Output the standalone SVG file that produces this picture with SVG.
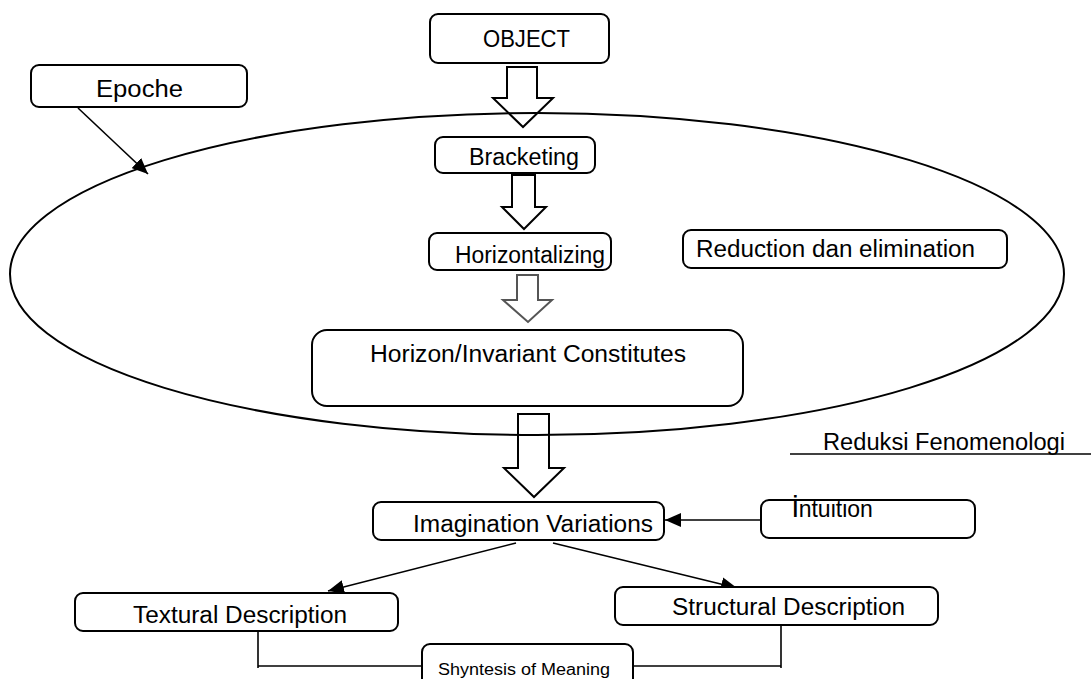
<svg xmlns="http://www.w3.org/2000/svg" width="1091" height="679" viewBox="0 0 1091 679">
<style>
.box{fill:#fff;stroke:#000;stroke-width:2}
.barrow{fill:none;stroke:#000;stroke-width:2;stroke-linejoin:miter}
.conn{fill:none;stroke:#000;stroke-width:1.6}
.t{font-family:"Liberation Sans",Arial,sans-serif;font-size:23px;fill:#000}
.s{font-family:"Liberation Sans",Arial,sans-serif;font-size:16px;fill:#000}
</style>
<defs>
<marker id="ah" markerUnits="userSpaceOnUse" markerWidth="16" markerHeight="14" refX="16" refY="7" orient="auto">
<path d="M0,0 L16,7 L0,14 Z" fill="#000"/>
</marker>
</defs>
<rect width="1091" height="679" fill="#fff"/>
<g id="ellipse">
<ellipse cx="537" cy="274" rx="527" ry="161" fill="none" stroke="#000" stroke-width="2"/>
</g>
<g id="block-arrows">
<path class="barrow" d="M507,67 H537 V98 H553 L523,127 L493,98 H507 Z"/>
<path class="barrow" d="M512,175 H535 V207 H546 L524,229 L502,207 H512 Z"/>
<path class="barrow" style="stroke:#555" d="M517,275 H538 V300 H552 L528,322 L503,300 H517 Z"/>
<path class="barrow" d="M518,414 H549 V468 H564 L534,497 L504,468 H518 Z"/>
</g>
<g id="connectors">
<line class="conn" x1="78" y1="108" x2="148" y2="174" marker-end="url(#ah)"/>
<line class="conn" x1="761" y1="520" x2="665" y2="520" marker-end="url(#ah)"/>
<line class="conn" x1="516" y1="543" x2="328" y2="591" marker-end="url(#ah)"/>
<line class="conn" x1="553" y1="543" x2="737" y2="588" marker-end="url(#ah)"/>
<polyline class="conn" points="258,631 258,668"/>
<line class="conn" x1="258" y1="666" x2="422" y2="666"/>
<polyline class="conn" points="781,625 781,668"/>
<line class="conn" x1="781" y1="666" x2="634" y2="666"/>
<line class="conn" x1="790" y1="454" x2="1091" y2="454"/>
</g>
<g id="object">
<rect class="box" x="430" y="14" width="179" height="49" rx="8"/>
<text class="t" x="483" y="47" textLength="87" lengthAdjust="spacingAndGlyphs">OBJECT</text>
</g>
<g id="epoche">
<rect class="box" x="31" y="65" width="216" height="42" rx="8"/>
<text class="t" x="96" y="97" textLength="87" lengthAdjust="spacingAndGlyphs">Epoche</text>
</g>
<g id="bracketing">
<rect class="box" x="435" y="137" width="160" height="36" rx="8"/>
<text class="t" x="469" y="165" textLength="110" lengthAdjust="spacingAndGlyphs">Bracketing</text>
</g>
<g id="horizontalizing">
<rect class="box" x="429" y="233" width="182" height="37" rx="8"/>
<text class="t" x="455" y="263" textLength="150" lengthAdjust="spacingAndGlyphs">Horizontalizing</text>
</g>
<g id="reduction">
<rect class="box" x="683" y="230" width="324" height="38" rx="8"/>
<text class="t" x="696" y="257" textLength="279" lengthAdjust="spacingAndGlyphs">Reduction dan elimination</text>
</g>
<g id="horizon">
<rect class="box" x="312" y="330" width="431" height="76" rx="15"/>
<text class="t" x="370" y="362" textLength="316" lengthAdjust="spacingAndGlyphs">Horizon/Invariant Constitutes</text>
</g>
<g id="reduksi">
<text class="t" x="823" y="450" textLength="242" lengthAdjust="spacingAndGlyphs">Reduksi Fenomenologi</text>
</g>
<g id="imagination">
<rect class="box" x="373" y="502" width="291" height="38" rx="8"/>
<text class="t" x="413" y="532" textLength="240" lengthAdjust="spacingAndGlyphs">Imagination Variations</text>
</g>
<g id="intuition">
<rect class="box" x="761" y="500" width="214" height="38" rx="8"/>
<text class="t" x="792" y="517" font-size="24"><tspan font-size="30">i</tspan>ntuition</text>
</g>
<g id="textural">
<rect class="box" x="75" y="593" width="323" height="38" rx="8"/>
<text class="t" x="133" y="623" textLength="214" lengthAdjust="spacingAndGlyphs">Textural Description</text>
</g>
<g id="structural">
<rect class="box" x="615" y="587" width="323" height="38" rx="8"/>
<text class="t" x="672" y="615" textLength="233" lengthAdjust="spacingAndGlyphs">Structural Description</text>
</g>
<g id="synthesis">
<rect class="box" x="422" y="644" width="211" height="50" rx="8"/>
<text class="s" x="438" y="675" textLength="172" lengthAdjust="spacingAndGlyphs">Shyntesis of Meaning</text>
</g>
</svg>
